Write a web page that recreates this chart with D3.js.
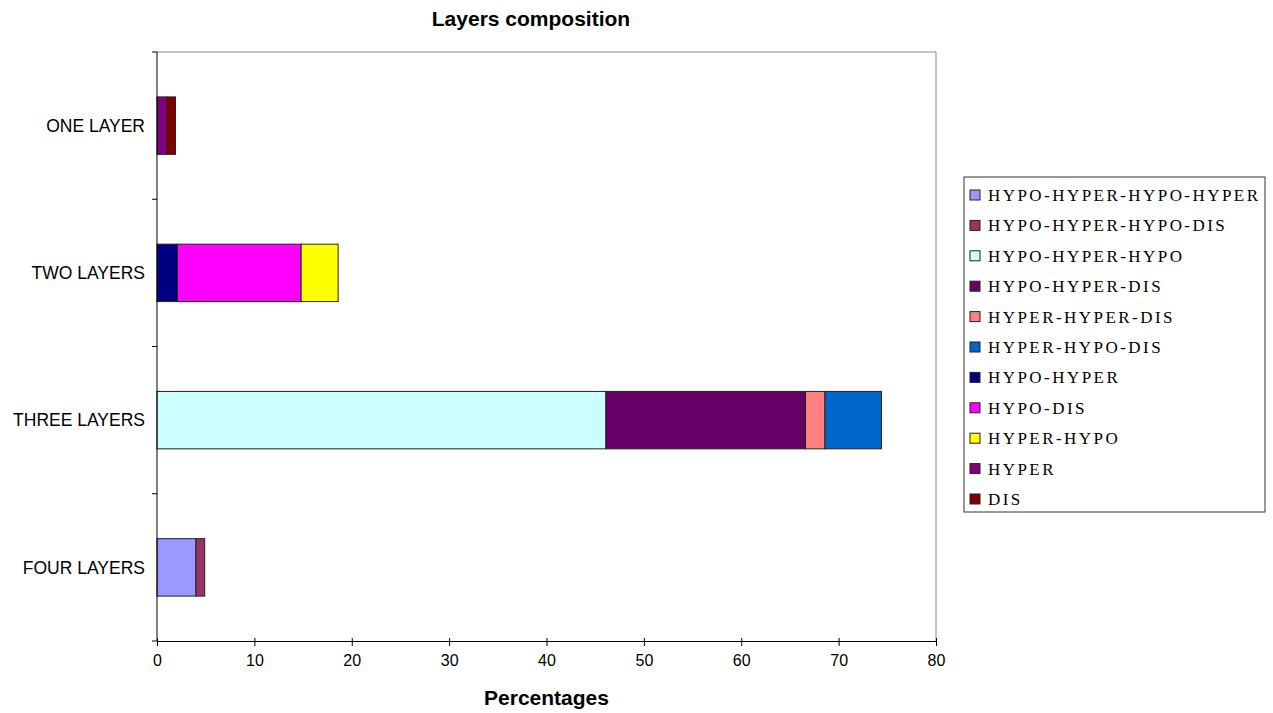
<!DOCTYPE html>
<html>
<head>
<meta charset="utf-8">
<script src="https://cdn.jsdelivr.net/npm/d3@7"></script>
<style>
  body { margin: 0; background: #fff; }
  svg { display: block; }
</style>
</head>
<body>
<svg id="chart"></svg>
<script>
// categories, top to bottom
const categories = ['ONE LAYER', 'TWO LAYERS', 'THREE LAYERS', 'FOUR LAYERS'];

// series in legend / stacking order
const seriesNames = [
    'HYPO-HYPER-HYPO-HYPER', 'HYPO-HYPER-HYPO-DIS', 'HYPO-HYPER-HYPO',
    'HYPO-HYPER-DIS', 'HYPER-HYPER-DIS', 'HYPER-HYPO-DIS',
    'HYPO-HYPER', 'HYPO-DIS', 'HYPER-HYPO', 'HYPER', 'DIS'
];
const seriesColors = [
    '#9999ff', '#993366', '#ccffff', '#660066', '#ff8080', '#0066cc',
    '#000080', '#ff00ff', '#ffff00', '#800080', '#800000'
];

// percentages per category, one array per series (same order as categories)
const hypoHyperHypoHyper = [0, 0, 0, 4.0];
const hypoHyperHypoDis   = [0, 0, 0, 0.9];
const hypoHyperHypo      = [0, 0, 46.1, 0];
const hypoHyperDis       = [0, 0, 20.5, 0];
const hyperHyperDis      = [0, 0, 2.0, 0];
const hyperHypoDis       = [0, 0, 5.8, 0];
const hypoHyper          = [0, 2.1, 0, 0];
const hypoDis            = [0, 12.7, 0, 0];
const hyperHypo          = [0, 3.8, 0, 0];
const hyper              = [1.0, 0, 0, 0];
const dis                = [0.9, 0, 0, 0];

const xTicks = [0, 10, 20, 30, 40, 50, 60, 70, 80];

const seriesValues = [
    hypoHyperHypoHyper, hypoHyperHypoDis, hypoHyperHypo, hypoHyperDis,
    hyperHyperDis, hyperHypoDis, hypoHyper, hypoDis, hyperHypo, hyper, dis
];

const width = 1273, height = 713;
const margin = { top: 52, right: 337, bottom: 72, left: 157 };
const plotW = width - margin.left - margin.right;
const plotH = height - margin.top - margin.bottom;
const sans = 'Liberation Sans, Arial, sans-serif';

const svg = d3.select('#chart')
    .attr('width', width)
    .attr('height', height);

// build rows for d3.stack
const rows = categories.map((c, i) => {
    const r = { category: c };
    seriesNames.forEach((s, j) => { r[s] = seriesValues[j][i]; });
    return r;
});
const stacked = d3.stack().keys(seriesNames)(rows);

const x = d3.scaleLinear().domain([0, 80]).range([0, plotW]);
const y = d3.scaleBand().domain(categories).range([0, plotH]).paddingInner(0.61).paddingOuter(0.305);
const yOuter = d3.scaleBand().domain(categories).range([0, plotH]);
const color = d3.scaleOrdinal(seriesNames, seriesColors);

const g = svg.append('g').attr('transform', `translate(${margin.left},${margin.top})`);

// plot area frame (grey top and right)
g.append('path')
    .attr('d', `M0,0H${plotW}V${plotH}`)
    .attr('fill', 'none')
    .attr('stroke', '#888')
    .attr('stroke-width', 1);

// bars
g.append('g')
    .selectAll('g')
    .data(stacked)
    .join('g')
    .attr('fill', d => color(d.key))
    .selectAll('rect')
    .data(d => d.filter(p => p[1] - p[0] > 0))
    .join('rect')
    .attr('x', d => x(d[0]))
    .attr('y', d => y(d.data.category))
    .attr('width', d => x(d[1]) - x(d[0]))
    .attr('height', y.bandwidth())
    .attr('stroke', '#222')
    .attr('stroke-width', 1);

// x axis
const xAxis = g.append('g')
    .attr('transform', `translate(0,${plotH})`)
    .call(d3.axisBottom(x).tickValues(xTicks).tickSize(5).tickPadding(9));
xAxis.selectAll('text')
    .attr('font-family', sans)
    .attr('font-size', 16)
    .attr('fill', '#000');
xAxis.select('.domain').attr('stroke', '#000');
xAxis.selectAll('.tick line').attr('y1', -3);

// y axis: ticks on band boundaries, labels at band centers
const yAxis = g.append('g');
yAxis.append('line')
    .attr('x1', 0).attr('x2', 0)
    .attr('y1', 0).attr('y2', plotH)
    .attr('stroke', '#000');
const bounds = categories.map(c => yOuter(c)).concat([plotH]);
yAxis.selectAll('line.tk')
    .data(bounds)
    .join('line')
    .attr('class', 'tk')
    .attr('x1', -5).attr('x2', 0)
    .attr('y1', d => d).attr('y2', d => d)
    .attr('stroke', '#000');
yAxis.selectAll('text')
    .data(categories)
    .join('text')
    .attr('x', -12)
    .attr('y', d => yOuter(d) + yOuter.bandwidth() / 2)
    .attr('dy', '0.35em')
    .attr('text-anchor', 'end')
    .attr('font-family', sans)
    .attr('font-size', 17.5)
    .text(d => d);

// title
svg.append('text')
    .attr('x', 531)
    .attr('y', 26)
    .attr('text-anchor', 'middle')
    .attr('font-family', sans)
    .attr('font-weight', 'bold')
    .attr('font-size', 21)
    .text('Layers composition');

// x axis title
svg.append('text')
    .attr('x', margin.left + plotW / 2)
    .attr('y', 705)
    .attr('text-anchor', 'middle')
    .attr('font-family', sans)
    .attr('font-weight', 'bold')
    .attr('font-size', 21)
    .text('Percentages');

// legend
const lg = svg.append('g').attr('transform', 'translate(964,177)');
lg.append('rect')
    .attr('width', 301)
    .attr('height', 335)
    .attr('fill', '#fff')
    .attr('stroke', '#333')
    .attr('stroke-width', 1);
const item = lg.selectAll('g.item')
    .data(seriesNames)
    .join('g')
    .attr('class', 'item')
    .attr('transform', (d, i) => `translate(6,${18 + i * 30.4})`);
item.append('rect')
    .attr('x', 0).attr('y', -5)
    .attr('width', 10).attr('height', 10)
    .attr('fill', d => color(d))
    .attr('stroke', '#222');
item.append('text')
    .attr('x', 18)
    .attr('dy', '0.35em')
    .attr('font-family', 'Liberation Serif, Times New Roman, serif')
    .attr('font-size', 17)
    .attr('letter-spacing', 2.45)
    .text(d => d);
</script>
</body>
</html>
